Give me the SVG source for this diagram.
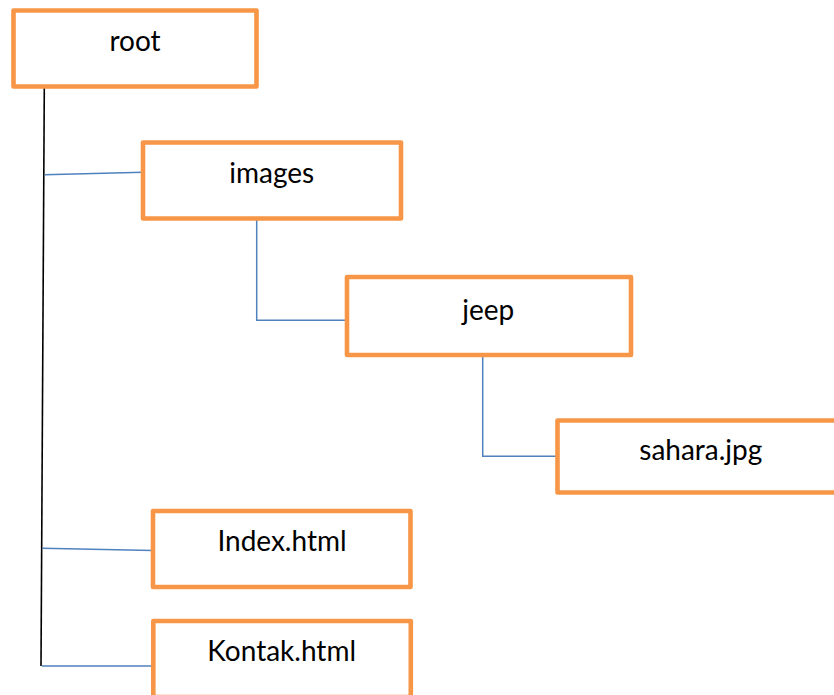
<svg xmlns="http://www.w3.org/2000/svg" width="834" height="695" viewBox="0 0 834 695">
  <style>
    .box { fill: #ffffff; stroke: #F79646; stroke-width: 4.6; stroke-linejoin: round; }
    .lbl { font-family: Lato, "Open Sans", "Liberation Sans", sans-serif; font-size: 28px; fill: #000000; text-anchor: middle; }
    .blue { fill: none; stroke: #4F81BD; stroke-width: 1.5; }
    .black { fill: none; stroke: #000000; stroke-width: 1.6; }
  </style>
  <rect width="834" height="695" fill="#ffffff"/>
  <g id="connectors">
    <line class="black" x1="44.3" y1="87" x2="41" y2="666"/>
    <line class="blue" x1="44.5" y1="174.7" x2="143" y2="172.3"/>
    <polyline class="blue" points="256.7,218.5 256.7,320.3 347,320.3"/>
    <polyline class="blue" points="482.7,355 482.7,456.3 557.5,456.3"/>
    <line class="blue" x1="42.5" y1="548.3" x2="153" y2="550.5"/>
    <line class="blue" x1="42" y1="666" x2="153" y2="666"/>
  </g>
  <g id="node-root">
    <rect class="box" x="13.5" y="10.5" width="243" height="76"/>
    <text class="lbl" x="135" y="50.7">root</text>
  </g>
  <g id="node-images">
    <rect class="box" x="143" y="142.5" width="258" height="76"/>
    <text class="lbl" x="271.7" y="182.7">images</text>
  </g>
  <g id="node-jeep">
    <rect class="box" x="347" y="277" width="284" height="78"/>
    <text class="lbl" x="488.3" y="320">jeep</text>
  </g>
  <g id="node-sahara">
    <rect class="box" x="557.5" y="420.5" width="290" height="72"/>
    <text class="lbl" x="700.8" y="460">sahara.jpg</text>
  </g>
  <g id="node-index">
    <rect class="box" x="153" y="511" width="257.5" height="76"/>
    <text class="lbl" x="282" y="550.7">Index.html</text>
  </g>
  <g id="node-kontak">
    <rect class="box" x="153.3" y="621" width="257.5" height="76"/>
    <text class="lbl" x="281.7" y="661">Kontak.html</text>
  </g>
</svg>
